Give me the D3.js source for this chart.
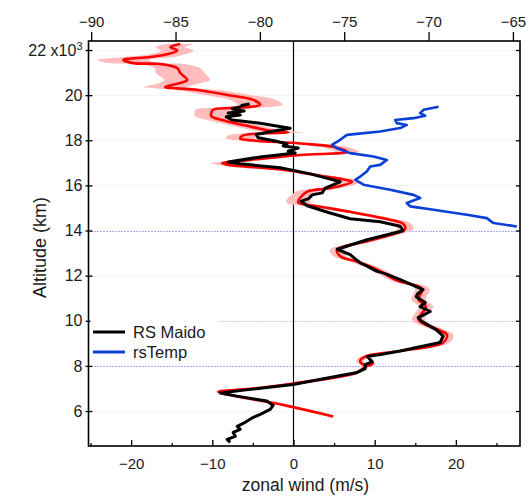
<!DOCTYPE html>
<html>
<head>
<meta charset="utf-8">
<script src="https://cdn.jsdelivr.net/npm/d3@7"></script>
<style>
  html, body { margin: 0; padding: 0; background: #fff; }
  svg { display: block; }
  text { font-family: "Liberation Sans", Arial, sans-serif; fill: #1a1a1a; }
</style>
</head>
<body>
<svg id="chart" width="528" height="498"></svg>
<script>
// ---------------- data ----------------
// Red profile (zonal wind, m/s) with its uncertainty band (± m/s)
const redAlt = [22.27,22.13,21.98,21.82,21.69,21.56,21.42,21.38,21.20,20.98,20.67,20.54,20.36,20.30,20.23,20.01,19.79,19.57,19.48,19.43,19.35,19.08,18.92,18.64,18.42,18.35,18.31,18.22,18.08,17.99,17.86,17.71,17.49,17.35,17.13,16.98,16.91,16.69,16.38,16.25,16.16,15.87,15.72,15.25,15.08,14.83,14.54,14.30,14.08,13.90,13.53,13.15,12.86,12.62,12.27,11.78,11.42,10.94,10.63,10.05,9.65,9.39,9.04,8.66,8.46,8.24,8.10,8.02,8.12,7.97,7.71,7.22,6.98,6.85,6.69,6.25,5.76];
const redWind = [-13.95,-15.18,-14.32,-15.43,-17.65,-20.97,-19.74,-16.42,-14.32,-13.95,-13.09,-13.95,-15.80,-14.32,-11.86,-8.17,-4.96,-4.10,-5.33,-7.80,-9.89,-10.14,-9.03,-5.70,-2.87,-0.65,-3.36,-6.19,-6.56,-4.96,0.83,4.89,6.61,0.83,-5.33,-8.78,-8.04,-1.27,4.15,6.37,7.23,4.52,1.69,0.58,2.92,6.98,11.05,13.51,13.76,12.77,9.08,5.38,5.75,7.85,10.31,12.77,15.85,15.40,16.30,15.40,17.50,18.90,18.44,13.14,9.20,8.21,8.40,9.40,9.80,8.90,7.85,-0.04,-5.33,-9.27,-7.55,-1.02,4.89];
const redSpread = [1.8,1.8,2.0,2.2,3.0,3.2,3.0,2.8,2.8,3.0,2.8,2.6,2.6,2.6,2.6,2.8,2.8,2.8,2.6,2.4,2.2,2.0,1.8,1.8,1.8,1.8,1.8,1.8,1.8,1.6,1.6,1.6,1.5,1.4,1.4,1.4,1.3,1.2,1.2,1.2,1.2,1.2,1.4,1.5,1.3,1.0,1.0,1.0,1.0,1.0,0.9,0.9,0.8,0.8,0.8,0.8,0.9,0.9,0.9,0.8,0.8,0.8,0.8,0.6,0.6,0.5,0.4,0.4,0.4,0.4,0.4,0.3,0.3,0.3,0.3,0.2,0.2];

// Black profile: RS Maido zonal wind (m/s)
const maidoAlt = [19.61,19.55,19.48,19.39,19.30,19.21,19.12,19.04,18.90,18.75,18.53,18.42,18.26,18.11,17.97,17.84,17.75,17.66,17.52,17.44,17.26,17.04,16.96,16.78,16.51,16.28,16.16,15.88,15.67,15.58,15.40,15.30,15.10,14.80,14.52,14.39,14.19,13.99,13.59,13.17,12.93,12.71,12.55,12.42,12.20,12.09,11.82,11.38,11.20,11.07,10.81,10.63,10.41,10.14,9.96,9.61,9.32,9.04,8.66,8.50,8.42,8.19,8.06,7.88,7.71,7.49,7.18,6.96,6.80,6.66,6.44,6.25,6.07,5.85,5.72,5.50,5.32,5.19,5.05,4.88,4.74,4.61];
const maidoWind = [-5.4,-6.3,-6.56,-7.55,-6.07,-8.04,-6.56,-8.29,-7.55,-4.10,-0.41,-2.25,-4.59,-4.35,-2.25,-0.78,-1.27,0.58,-0.65,0.21,-4.10,-8.04,-6.56,-1.64,2.06,4.52,5.75,3.90,3.53,2.30,1.81,0.95,1.69,4.3,6.98,10.68,13.14,13.51,9.08,5.38,6.98,7.72,8.3,9.08,10.2,11.29,13.14,15.97,15.3,15.11,16.22,15.60,16.84,15.36,15.85,17.57,18.44,18.07,13.14,10.68,9.08,9.69,8.83,8.83,7.85,4.52,-0.04,-5.33,-9.03,-6.97,-3.28,-2.50,-2.87,-4.10,-4.96,-5.95,-6.93,-6.56,-7.43,-7.18,-8.17,-7.80];

// Blue profile: rsTemp temperature (°C, top axis)
const tempAlt = [19.49,19.35,19.20,19.09,18.98,18.90,18.76,18.68,18.54,18.39,18.24,18.02,17.80,17.65,17.43,17.28,17.13,16.91,16.84,16.62,16.39,16.25,16.03,15.81,15.58,15.44,15.22,15.07,14.92,14.70,14.55,14.33,14.18];
const tempVal = [-69.41,-70.30,-70.50,-70.20,-70.89,-71.98,-71.88,-71.29,-71.68,-72.87,-74.84,-75.24,-75.73,-75.44,-74.65,-73.27,-72.47,-72.87,-73.46,-73.66,-74.05,-74.35,-73.86,-72.28,-70.89,-70.50,-71.29,-71.09,-69.71,-67.73,-66.55,-66.15,-64.77];

// Axis ticks
const altTicks = [6, 8, 10, 12, 14, 16, 18, 20, 22];
const windTicks = [-20, -10, 0, 10, 20];
const windMinorTicks = [-25, -15, -5, 5, 15, 25];
const tempTicks = [-90, -85, -80, -75, -70, -65];
const legendLabels = ["RS Maido", "rsTemp"];

// ---------------- drawing ----------------
const svg = d3.select("#chart");
const L = 88.5, R = 520, T = 41, B = 446;

const y = d3.scaleLinear().domain([4.45, 22.4]).range([B, T]);
const x = d3.scaleLinear().domain([-25.25, 27.9]).range([L, R]);
const xTop = d3.scaleLinear().domain([-90.16, -64.58]).range([L, R]);

// grid lines
const strong = new Set([8, 14]);
svg.append("g").selectAll("line").data(altTicks).join("line")
  .attr("x1", L + 3).attr("x2", R - 2)
  .attr("y1", d => Math.round(y(d)) + 0.5).attr("y2", d => Math.round(y(d)) + 0.5)
  .attr("stroke", d => strong.has(d) ? "#5a5af0" : (d === 10 ? "#9a9af4" : "#dcdcfa"))
  .attr("stroke-width", 1)
  .attr("stroke-dasharray", "1,2");

// zero line
svg.append("line")
  .attr("x1", x(0)).attr("x2", x(0)).attr("y1", T).attr("y2", B)
  .attr("stroke", "#000").attr("stroke-width", 1.2);

// red band + line
const redData = redAlt.map((a, i) => ({ a, w: redWind[i], s: redSpread[i] }));
svg.append("path").datum(redData)
  .attr("d", d3.area().y(d => y(d.a)).x0(d => x(d.w - d.s)).x1(d => x(d.w + d.s)).curve(d3.curveCatmullRom))
  .attr("fill", "#ffbcbc").attr("stroke", "none");
svg.append("path").datum(redData)
  .attr("d", d3.line().y(d => y(d.a)).x(d => x(d.w)).curve(d3.curveCatmullRom))
  .attr("fill", "none").attr("stroke", "#ff0000").attr("stroke-width", 2.6)
  .attr("stroke-linejoin", "round");

// black line
const maidoData = maidoAlt.map((a, i) => ({ a, w: maidoWind[i] }));
svg.append("path").datum(maidoData)
  .attr("d", d3.line().y(d => y(d.a)).x(d => x(d.w)))
  .attr("fill", "none").attr("stroke", "#000").attr("stroke-width", 3)
  .attr("stroke-linejoin", "round");

// blue line
const tempData = tempAlt.map((a, i) => ({ a, t: tempVal[i] }));
svg.append("path").datum(tempData)
  .attr("d", d3.line().y(d => y(d.a)).x(d => xTop(d.t)))
  .attr("fill", "none").attr("stroke", "#0a3fd8").attr("stroke-width", 2.6)
  .attr("stroke-linejoin", "round");

// frame
svg.append("rect").attr("x", L).attr("y", T).attr("width", R - L).attr("height", B - T)
  .attr("fill", "none").attr("stroke", "#000").attr("stroke-width", 1.6);

function styleAxis(g) {
  g.select(".domain").remove();
  g.selectAll(".tick line").attr("stroke", "#000").attr("stroke-width", 1.3);
  g.selectAll("text").attr("font-size", 15).attr("fill", "#1a1a1a")
    .attr("font-family", "Liberation Sans, Arial, sans-serif");
}

// bottom axis
svg.append("g").attr("transform", `translate(0,${B})`)
  .call(d3.axisBottom(x).tickValues(windTicks).tickSizeInner(-6).tickSizeOuter(0).tickPadding(12))
  .call(styleAxis);
svg.append("g").attr("transform", `translate(0,${B})`)
  .call(d3.axisBottom(x).tickValues(windMinorTicks).tickSizeInner(-3).tickSizeOuter(0).tickFormat(""))
  .call(styleAxis);

// top axis
svg.append("g").attr("transform", `translate(0,${T})`)
  .call(d3.axisTop(xTop).tickValues(tempTicks).tickSizeInner(9).tickSizeOuter(0).tickPadding(5))
  .call(styleAxis);

// left axis (ticks crossing the frame)
const leftAx = svg.append("g").attr("transform", `translate(${L},0)`)
  .call(d3.axisLeft(y).tickValues(altTicks).tickSizeInner(3).tickSizeOuter(0).tickPadding(3))
  .call(styleAxis);
leftAx.selectAll(".tick text").attr("font-size", 16);
svg.append("g").attr("transform", `translate(${L},0)`)
  .call(d3.axisLeft(y).tickValues(altTicks).tickSizeInner(-4).tickSizeOuter(0).tickFormat(""))
  .call(styleAxis);
// 22 x10^3 label
leftAx.selectAll(".tick").filter(d => d === 22).select("text")
  .text(null)
  .call(t => {
    t.append("tspan").text("22 x10");
    t.append("tspan").attr("font-size", 11).attr("dy", "-0.55em").text("3");
  });

// right axis ticks
svg.append("g").attr("transform", `translate(${R},0)`)
  .call(d3.axisRight(y).tickValues(altTicks).tickSizeInner(-4).tickSizeOuter(0).tickFormat(""))
  .call(styleAxis);

// axis titles
svg.append("text").attr("x", x(0) + 12).attr("y", 491)
  .attr("text-anchor", "middle").attr("font-size", 17.5).text("zonal wind (m/s)");
svg.append("text").attr("transform", `translate(46,${(T + B) / 2 + 4}) rotate(-90)`)
  .attr("text-anchor", "middle").attr("font-size", 18).text("Altitude (km)");

// legend
const lg = svg.append("g");
lg.append("rect").attr("x", L + 2).attr("y", 316).attr("width", 128).attr("height", 46).attr("fill", "#fff");
const legendColors = ["#000", "#0a3fd8"];
legendLabels.forEach((lab, i) => {
  const yy = 332 + i * 20;
  lg.append("line").attr("x1", 93).attr("x2", 125).attr("y1", yy).attr("y2", yy)
    .attr("stroke", legendColors[i]).attr("stroke-width", 3);
  lg.append("text").attr("x", 133).attr("y", yy + 6).attr("font-size", 16.5).text(lab);
});
</script>
</body>
</html>
